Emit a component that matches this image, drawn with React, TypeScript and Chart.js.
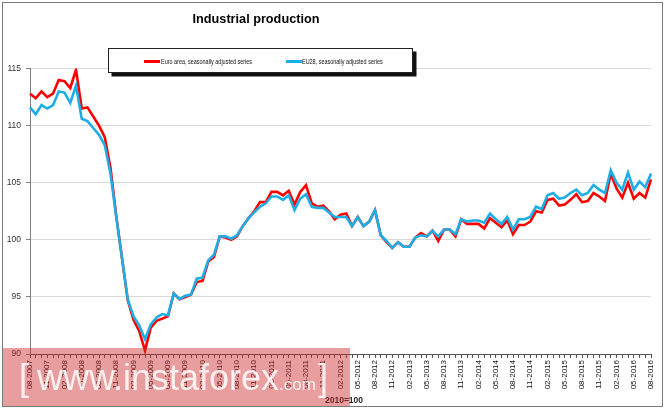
import React, { useEffect, useRef } from "react";
import { Chart, registerables } from "chart.js";

Chart.register(...registerables);

// Monthly categories 08-2007 .. 08-2016
const startMonth = 8;
const startYear = 2007;
const monthCount = 109;
const months: string[] = (() => {
  const out: string[] = [];
  let m = startMonth;
  let y = startYear;
  for (let i = 0; i < monthCount; i++) {
    out.push(String(m).padStart(2, "0") + "-" + y);
    m++;
    if (m > 12) {
      m = 1;
      y++;
    }
  }
  return out;
})();

const euroArea: number[] = [
  112.8, 112.4, 113.0, 112.5, 112.8, 114.0, 113.9, 113.3, 114.9, 111.5,
  111.6, 110.8, 110.0, 109.0, 106.3, 102.1, 98.4, 94.7, 93.0, 92.0,
  90.3, 92.3, 92.9, 93.1, 93.3, 95.3, 94.8, 95.0, 95.2, 96.3,
  96.4, 98.1, 98.5, 100.3, 100.2, 100.0, 100.3, 101.2, 101.9, 102.5,
  103.3, 103.3, 104.2, 104.2, 103.9, 104.3, 103.1, 104.2, 104.8, 103.2,
  102.9, 103.0, 102.5, 101.8, 102.2, 102.3, 101.2, 102.0, 101.2, 101.6,
  102.6, 100.4, 99.8, 99.3, 99.8, 99.4, 99.4, 100.2, 100.6, 100.3,
  100.8, 99.9, 100.9, 100.9, 100.3, 101.8, 101.4, 101.4, 101.4, 101.0,
  101.9, 101.5, 101.1, 101.7, 100.5, 101.3, 101.3, 101.6, 102.5, 102.4,
  103.5, 103.6, 103.0, 103.1, 103.5, 104.0, 103.3, 103.4, 104.1, 103.8,
  103.4, 105.8, 104.5, 103.7, 105.0, 103.6, 104.1, 103.7, 105.3,
];

const eu28: number[] = [
  111.6, 111.0, 111.8, 111.5, 111.8, 113.0, 112.9, 112.0, 113.5, 110.6,
  110.4, 109.8, 109.2, 108.3, 105.8, 102.0, 98.4, 94.8, 93.3, 92.5,
  91.3, 92.6, 93.2, 93.5, 93.4, 95.3, 94.8, 95.1, 95.2, 96.6,
  96.7, 98.2, 98.7, 100.3, 100.3, 100.1, 100.4, 101.2, 101.9, 102.4,
  102.9, 103.2, 103.8, 103.8, 103.5, 103.9, 102.6, 103.6, 104.0, 102.9,
  102.8, 102.8, 102.4, 102.0, 102.0, 102.0, 101.2, 102.0, 101.2, 101.6,
  102.6, 100.4, 99.9, 99.3, 99.8, 99.4, 99.4, 100.2, 100.4, 100.3,
  100.8, 100.3, 100.9, 100.9, 100.5, 101.8, 101.6, 101.7, 101.7, 101.5,
  102.3, 101.8, 101.4, 102.0, 100.9, 101.8, 101.8, 102.0, 102.9, 102.7,
  103.9, 104.1, 103.6, 103.7, 104.1, 104.4, 103.9, 104.1, 104.8, 104.4,
  104.1, 106.1, 105.0, 104.4, 105.9, 104.4, 105.1, 104.6, 105.8,
];

const seriesNames = [
  "Euro area, seasonally adjusted series",
  "EU28, seasonally adjusted series",
];
const seriesColors = ["#ff0000", "#1eaee6"];
const yMin = 90;
const yMax = 115;
const yStep = 5;
const titleText = "Industrial production";
const baseNote = "2010=100";

export default function App() {
  const canvasRef = useRef<HTMLCanvasElement | null>(null);

  useEffect(() => {
    const canvas = canvasRef.current;
    if (!canvas) return;
    const chart = new Chart(canvas, {
      type: "line",
      data: {
        labels: months,
        datasets: [
          {
            label: seriesNames[0],
            data: euroArea,
            borderColor: seriesColors[0],
            backgroundColor: seriesColors[0],
            borderWidth: 2.6,
            pointRadius: 0,
            tension: 0,
            order: 1,
          },
          {
            label: seriesNames[1],
            data: eu28,
            borderColor: seriesColors[1],
            backgroundColor: seriesColors[1],
            borderWidth: 2.6,
            pointRadius: 0,
            tension: 0,
            order: 0,
          },
        ],
      },
      options: {
        animation: false,
        responsive: false,
        maintainAspectRatio: false,
        layout: { padding: { top: 68.6, right: 14, left: 0, bottom: 0 } },
        plugins: {
          legend: { display: false },
          tooltip: { enabled: false },
          title: { display: false },
        },
        scales: {
          x: {
            type: "category",
            offset: false,
            grid: {
              drawOnChartArea: false,
              drawTicks: true,
              tickLength: 4,
              color: "#555",
              tickColor: "#555",
            },
            border: { display: true, color: "#555", width: 1 },
            ticks: {
              autoSkip: false,
              maxRotation: 90,
              minRotation: 90,
              padding: 2,
              color: "#111",
              font: {
                family: "'Liberation Sans Narrow', 'Arial Narrow', Arial, sans-serif",
                size: 8,
              },
              callback: (_v: any, i: number) => (i % 3 === 0 ? months[i] : ""),
            },
            afterFit: (s: any) => {
              s.height = 55;
            },
          },
          y: {
            min: yMin,
            max: yMax,
            ticks: {
              stepSize: yStep,
              color: "#333",
              padding: 5,
              font: { family: "Arial, 'Liberation Sans', sans-serif", size: 8.5 },
            },
            grid: { color: "#d9d9d9", tickColor: "#808080", tickLength: 4 },
            border: { display: true, color: "#808080", width: 1 },
            afterFit: (s: any) => {
              s.width = 30;
            },
          },
        },
      },
    });
    return () => chart.destroy();
  }, []);

  const legendText: React.CSSProperties = {
    position: "absolute",
    top: 8.5,
    fontFamily: "Arial, 'Liberation Sans', sans-serif",
    fontSize: 7,
    lineHeight: "8px",
    color: "#111",
    whiteSpace: "nowrap",
    transform: "scaleX(0.78)",
    transformOrigin: "left center",
  };

  return (
    <div
      style={{
        position: "fixed",
        left: 0,
        top: 0,
        width: 665,
        height: 409,
        background: "#fff",
        overflow: "hidden",
      }}
    >
      <canvas
        ref={canvasRef}
        width={665}
        height={409}
        style={{ position: "absolute", left: 0, top: 0, width: 665, height: 409 }}
      />
      <div
        style={{
          position: "absolute",
          left: 0,
          width: 512,
          top: 11.5,
          textAlign: "center",
          fontFamily: "Arial, 'Liberation Sans', sans-serif",
          fontWeight: "bold",
          fontSize: 12.7,
          lineHeight: "15px",
          color: "#000",
        }}
      >
        {titleText}
      </div>
      <div
        style={{
          position: "absolute",
          left: 108,
          top: 48,
          width: 305,
          height: 25,
          boxSizing: "border-box",
          border: "1px solid #222",
          background: "#fff",
          boxShadow: "3.5px 3.5px 0 #111",
        }}
      >
        <div
          style={{
            position: "absolute",
            left: 35,
            top: 11,
            width: 16,
            height: 2.6,
            background: seriesColors[0],
          }}
        />
        <div style={{ ...legendText, left: 52 }}>{seriesNames[0]}</div>
        <div
          style={{
            position: "absolute",
            left: 177,
            top: 11,
            width: 16,
            height: 2.6,
            background: seriesColors[1],
          }}
        />
        <div style={{ ...legendText, left: 193 }}>{seriesNames[1]}</div>
      </div>
      <div
        style={{
          position: "absolute",
          left: 325,
          top: 395,
          fontFamily: "Arial, 'Liberation Sans', sans-serif",
          fontWeight: "bold",
          fontSize: 8.5,
          lineHeight: "10px",
          color: "#222",
        }}
      >
        {baseNote}
      </div>
      {/* watermark overlay */}
      <div
        style={{
          position: "absolute",
          left: 3,
          top: 348,
          width: 347,
          height: 58,
          background: "rgba(205, 40, 40, 0.45)",
        }}
      />
      <div
        style={{
          position: "absolute",
          left: 19,
          top: 358,
          fontFamily: "Arial, 'Liberation Sans', sans-serif",
          fontSize: 36,
          lineHeight: "40px",
          color: "rgba(255,255,255,0.85)",
          whiteSpace: "pre",
        }}
      >
        <span>[</span>
        <span style={{ marginLeft: 8 }}>www.instaforex</span>
        <span style={{ fontSize: 17 }}>.com</span>
        <span style={{ marginLeft: 2 }}>]</span>
      </div>
      <div
        style={{
          position: "absolute",
          left: 2,
          top: 2,
          width: 661,
          height: 405,
          boxSizing: "border-box",
          border: "1px solid #7a7a7a",
          pointerEvents: "none",
        }}
      />
    </div>
  );
}
